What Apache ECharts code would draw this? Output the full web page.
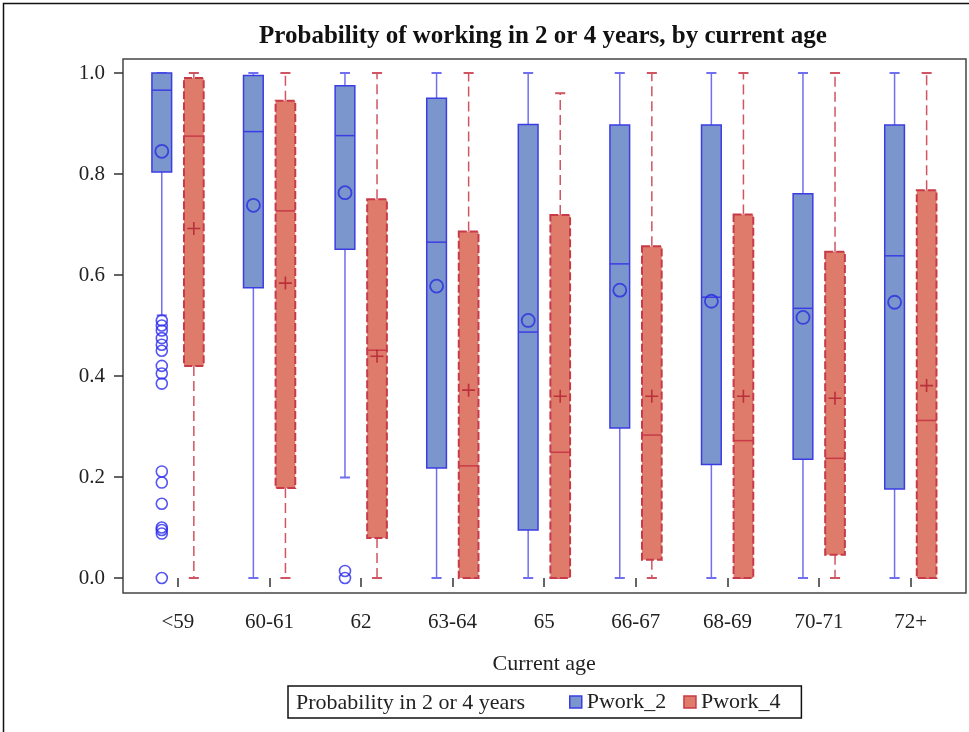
<!DOCTYPE html>
<html><head><meta charset="utf-8">
<script src="https://cdn.jsdelivr.net/npm/echarts@6/dist/echarts.min.js"></script>
<style>html,body{margin:0;padding:0;background:#fff}#chart{width:969px;height:732px}</style>
</head><body><div id="chart"></div>
<script>
const categories = ['<59','60-61','62','63-64','65','66-67','68-69','70-71','72+'];
// each entry: [min, Q1, median, Q3, max]
const pwork2Box = [
  [0.52, 0.804, 0.966, 1.000, 1.0],
  [0.00, 0.575, 0.884, 0.995, 1.0],
  [0.199, 0.651, 0.876, 0.975, 1.0],
  [0.00, 0.218, 0.665, 0.950, 1.0],
  [0.00, 0.095, 0.487, 0.898, 1.0],
  [0.00, 0.297, 0.622, 0.897, 1.0],
  [0.00, 0.225, 0.556, 0.897, 1.0],
  [0.00, 0.235, 0.534, 0.761, 1.0],
  [0.00, 0.176, 0.638, 0.897, 1.0]
];
const pwork4Box = [
  [0.00, 0.420, 0.875, 0.990, 1.0],
  [0.00, 0.178, 0.727, 0.945, 1.0],
  [0.00, 0.079, 0.451, 0.750, 1.0],
  [0.00, 0.000, 0.222, 0.686, 1.0],
  [0.00, 0.000, 0.249, 0.719, 0.960],
  [0.00, 0.036, 0.283, 0.657, 1.0],
  [0.00, 0.000, 0.272, 0.720, 1.0],
  [0.00, 0.046, 0.237, 0.646, 1.0],
  [0.00, 0.000, 0.312, 0.768, 1.0]
];
const pwork2Mean = [0.845, 0.738, 0.763, 0.578, 0.510, 0.570, 0.548, 0.516, 0.546];
const pwork4Mean = [0.692, 0.584, 0.439, 0.372, 0.360, 0.360, 0.360, 0.356, 0.381];
// [category index, value]
const pwork2Outliers = [
  [0,0.510],[0,0.500],[0,0.490],[0,0.475],[0,0.462],[0,0.450],[0,0.420],[0,0.405],[0,0.385],
  [0,0.211],[0,0.189],[0,0.147],[0,0.100],[0,0.095],[0,0.088],[0,0.000],
  [2,0.014],[2,0.000]
];
const yTicks = [0.0, 0.2, 0.4, 0.6, 0.8, 1.0];

const FONT = "'Liberation Serif','Times New Roman',serif";
const SHIFT = 0.175;   // fraction of band for box center offset
const BOXW = 0.215;    // fraction of band for box width
const CAPW = 0.11;     // fraction of band for cap width

function boxRenderer(side, st) {
  return function (params, api) {
    const i = api.value(0);
    const band = api.size([1, 0])[0];
    const cx = api.coord([i, 0])[0] + side * SHIFT * band;
    const hw = BOXW * band / 2;
    const cw = CAPW * band / 2;
    const y = k => api.coord([i, api.value(k)])[1];
    const yMin = y(1), yQ1 = y(2), yMed = y(3), yQ3 = y(4), yMax = y(5);
    const wStyle = {stroke: st.whisker, lineWidth: st.wWidth, lineDash: st.wDash};
    const cStyle = {stroke: st.whisker, lineWidth: 2};
    return {
      type: 'group',
      children: [
        {type: 'line', shape: {x1: cx, y1: yQ3, x2: cx, y2: yMax}, style: wStyle},
        {type: 'line', shape: {x1: cx, y1: yQ1, x2: cx, y2: yMin}, style: wStyle},
        {type: 'line', shape: {x1: cx - cw, y1: yMax, x2: cx + cw, y2: yMax}, style: cStyle},
        {type: 'line', shape: {x1: cx - cw, y1: yMin, x2: cx + cw, y2: yMin}, style: cStyle},
        {type: 'rect', shape: {x: cx - hw, y: yQ3, width: 2 * hw, height: yQ1 - yQ3},
          style: {fill: st.fill, stroke: st.border, lineWidth: st.bWidth, lineDash: st.bDash}},
        {type: 'line', shape: {x1: cx - hw, y1: yMed, x2: cx + hw, y2: yMed},
          style: {stroke: st.border, lineWidth: 1.5}}
      ]
    };
  };
}

const blueStyle = {fill: '#7B96CC', border: '#3C3CE4', bWidth: 1.5, bDash: null,
  whisker: '#6F6FF0', wWidth: 1.5, wDash: null};
const redStyle = {fill: '#DF7B6B', border: '#C83A48', bWidth: 2, bDash: [8, 3],
  whisker: '#D05563', wWidth: 1.5, wDash: [10, 5]};

const chart = echarts.init(document.getElementById('chart'), null, {renderer: 'canvas'});
chart.setOption({
  animation: false,
  backgroundColor: '#fff',
  textStyle: {fontFamily: FONT},
  grid: {left: 132, top: 73, width: 824.4, height: 505},
  xAxis: {
    type: 'category', data: categories, offset: 15,
    axisLine: {show: false},
    axisTick: {show: true, alignWithLabel: true, interval: 0, length: 9, lineStyle: {color: '#333', width: 1.5}},
    axisLabel: {interval: 0, margin: 19, color: '#222', fontSize: 21, fontFamily: FONT},
    splitLine: {show: false},
    name: 'Current age', nameLocation: 'middle', nameGap: 60,
    nameTextStyle: {fontSize: 22, color: '#222', fontFamily: FONT}
  },
  yAxis: {
    type: 'value', min: yTicks[0], max: yTicks[yTicks.length - 1], interval: yTicks[1] - yTicks[0],
    offset: 9,
    axisLine: {show: false},
    axisTick: {show: true, length: 9, lineStyle: {color: '#333', width: 1.5}},
    axisLabel: {margin: 18, color: '#222', fontSize: 21, fontFamily: FONT,
      formatter: v => v.toFixed(1)},
    splitLine: {show: false}
  },
  legend: {
    left: 288, top: 686,
    padding: [5, 21, 5, 281],
    borderColor: '#111', borderWidth: 1.5,
    itemWidth: 12, itemHeight: 12, itemGap: 17,
    textStyle: {fontSize: 22, color: '#222', fontFamily: FONT},
    data: [
      {name: 'Pwork_2', icon: 'rect', itemStyle: {color: '#7B96CC', borderColor: '#3C3CE4', borderWidth: 1.5}},
      {name: 'Pwork_4', icon: 'rect', itemStyle: {color: '#DF7B6B', borderColor: '#C83A48', borderWidth: 1.5}}
    ]
  },
  graphic: [
    {type: 'rect', z: -1, shape: {x: 3.5, y: 3.5, width: 1100, height: 1100},
      style: {fill: null, stroke: '#111', lineWidth: 1.5}},
    {type: 'rect', z: 0, shape: {x: 123, y: 59, width: 843, height: 534},
      style: {fill: null, stroke: '#444', lineWidth: 1.5}},
    {type: 'text', x: 543, y: 37, style: {text: 'Probability of working in 2 or 4 years, by current age',
      font: "bold 25px 'Liberation Serif','Times New Roman',serif", fill: '#111',
      textAlign: 'center', textVerticalAlign: 'middle'}},
    {type: 'text', x: 296, y: 703, style: {text: 'Probability in 2 or 4 years',
      font: "22px 'Liberation Serif','Times New Roman',serif", fill: '#222',
      textAlign: 'left', textVerticalAlign: 'middle'}}
  ],
  series: [
    {
      name: 'Pwork_2', type: 'custom', clip: false,
      itemStyle: {color: '#7B96CC'},
      renderItem: boxRenderer(-1, blueStyle),
      encode: {x: 0, y: [1, 2, 3, 4, 5]},
      data: pwork2Box.map((b, i) => [i].concat(b))
    },
    {
      name: 'Pwork_4', type: 'custom', clip: false,
      itemStyle: {color: '#DF7B6B'},
      renderItem: boxRenderer(1, redStyle),
      encode: {x: 0, y: [1, 2, 3, 4, 5]},
      data: pwork4Box.map((b, i) => [i].concat(b))
    },
    {
      name: 'Pwork_2 outliers', type: 'scatter', clip: false, z: 5,
      symbol: 'circle', symbolSize: 11, symbolOffset: [-16, 0],
      itemStyle: {color: 'none', borderColor: '#2A2AEE', borderWidth: 1.6},
      data: pwork2Outliers
    },
    {
      name: 'Pwork_2 mean', type: 'scatter', clip: false, z: 5,
      symbol: 'circle', symbolSize: 13, symbolOffset: [-16, 0],
      itemStyle: {color: 'none', borderColor: '#2A2AE0', borderWidth: 1.8},
      data: pwork2Mean.map((v, i) => [i, v])
    },
    {
      name: 'Pwork_4 mean', type: 'scatter', clip: false, z: 5,
      symbol: 'path://M0,6L12,6M6,0L6,12', symbolSize: 13, symbolOffset: [16, 0],
      itemStyle: {color: 'none', borderColor: '#B01E2E', borderWidth: 1.6},
      data: pwork4Mean.map((v, i) => [i, v])
    }
  ]
});
</script></body></html>
